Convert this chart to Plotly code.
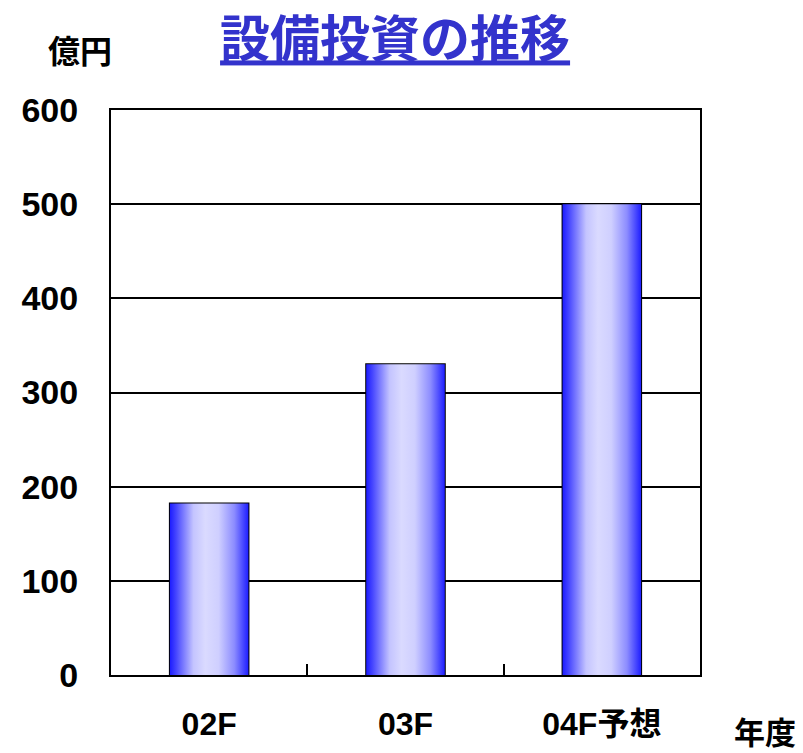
import plotly.graph_objects as go

# 設備投資の推移 (億円)
categories = ["02F", "03F", "04F予想"]
values = [182, 330, 500]
y_ticks = [0, 100, 200, 300, 400, 500, 600]

BAR_WIDTH = 0.4
FONT = "Liberation Sans, Noto Sans CJK JP, sans-serif"
CJK_FONT = "Noto Sans CJK JP, sans-serif"

# blue edges fading to pale lavender in the middle of each bar
gradient = [
    [0.0, "#1c1cff"],
    [0.08, "#4646ff"],
    [0.30, "#c4c4ff"],
    [0.45, "#dadaff"],
    [0.62, "#cfcfff"],
    [0.82, "#8c8cff"],
    [1.0, "#1f1fff"],
]

fig = go.Figure()

positions = list(range(len(categories)))
for pos, val in zip(positions, values):
    left, right = pos - BAR_WIDTH / 2, pos + BAR_WIDTH / 2
    fig.add_trace(go.Scatter(
        x=[left, right, right, left, left],
        y=[0, 0, val, val, 0],
        mode="lines",
        line=dict(width=0),
        fill="toself",
        fillgradient=dict(type="horizontal", colorscale=gradient),
        hoverinfo="skip",
        showlegend=False,
    ))

# bar outlines on top of the gradient fills
fig.add_trace(go.Bar(
    x=positions,
    y=values,
    width=BAR_WIDTH,
    marker=dict(color="rgba(0,0,0,0)", line=dict(color="black", width=2)),
    showlegend=False,
))

fig.update_layout(
    width=803,
    height=753,
    margin=dict(l=111, r=103, t=110, b=78, autoexpand=False),
    paper_bgcolor="white",
    plot_bgcolor="white",
    title=dict(
        text="<b>設備投資の推移</b>",
        x=0.492,
        xref="container",
        xanchor="center",
        y=0.947,
        yref="container",
        yanchor="middle",
        font=dict(family=CJK_FONT, size=50, color="#3333cc", lineposition="under"),
    ),
    xaxis=dict(
        range=[-0.5, 2.5],
        automargin=False,
        tickmode="array",
        tickvals=positions,
        ticktext=[f"<b>{c}</b>" for c in categories],
        ticks="",
        ticklabelstandoff=20,
        tickfont=dict(family=FONT, size=32, color="black"),
        showgrid=False,
        showline=True,
        linecolor="black",
        linewidth=2,
        mirror=True,
        zeroline=False,
        fixedrange=True,
        minor=dict(
            tickmode="array",
            tickvals=[p + 0.5 for p in positions[:-1]],
            ticks="inside",
            ticklen=11,
            tickwidth=1.5,
            tickcolor="black",
            showgrid=False,
        ),
    ),
    yaxis=dict(
        range=[0, 600],
        automargin=False,
        tickmode="array",
        tickvals=y_ticks,
        ticktext=[f"<b>{t}</b>" for t in y_ticks],
        ticks="",
        ticklabelstandoff=24,
        tickfont=dict(family=FONT, size=34, color="black"),
        showgrid=True,
        gridcolor="black",
        gridwidth=1.5,
        showline=True,
        linecolor="black",
        linewidth=2,
        mirror=True,
        zeroline=False,
        fixedrange=True,
    ),
    annotations=[
        dict(
            text="<b>億円</b>",
            xref="paper", yref="paper",
            x=-0.053, y=1.108,
            xanchor="center", yanchor="middle",
            showarrow=False,
            font=dict(family=CJK_FONT, size=32, color="black"),
        ),
        dict(
            text="<b>年度</b>",
            xref="paper", yref="paper",
            x=1.11, y=-0.098,
            xanchor="center", yanchor="middle",
            showarrow=False,
            font=dict(family=CJK_FONT, size=31, color="black"),
        ),
    ],
)

fig.write_html("out.html")
